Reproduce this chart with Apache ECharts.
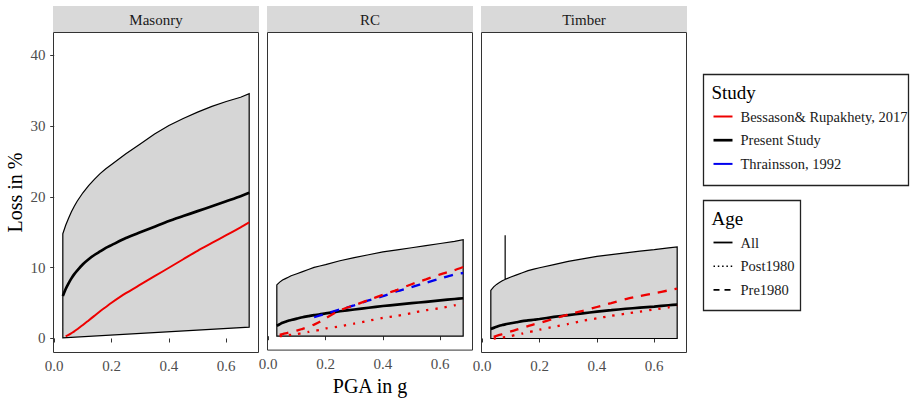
<!DOCTYPE html>
<html><head><meta charset="utf-8">
<script src="https://cdn.jsdelivr.net/npm/echarts@6/dist/echarts.min.js"></script>
<style>html,body{margin:0;padding:0;background:#fff}#chart{width:910px;height:401px}</style>
</head><body><div id="chart"></div>
<script>
// ---------- data ----------
const facets = ['Masonry', 'RC', 'Timber'];
const xTicks = [0, 0.2, 0.4, 0.6];
const yTicks = [0, 10, 20, 30, 40];
const xTitle = 'PGA in g';
const yTitle = 'Loss in %';
const studyLabels = ['Bessason& Rupakhety, 2017', 'Present Study', 'Thrainsson, 1992'];
const ageLabels = ['All', 'Post1980', 'Pre1980'];

const pga = [0.03,0.04,0.05,0.06,0.07,0.08,0.1,0.12,0.14,0.16,0.18,0.2,0.25,0.3,0.35,0.4,0.45,0.5,0.55,0.6,0.65,0.68];
const pgaEnds = [0.03, 0.68];
const pgaBessason = [0.04,0.05,0.06,0.07,0.08,0.1,0.12,0.14,0.16,0.18,0.2,0.25,0.3,0.35,0.4,0.45,0.5,0.55,0.6,0.65,0.68];
const pgaThrainsson = [0.16,0.2,0.25,0.3,0.35,0.4,0.45,0.5,0.55,0.6,0.65,0.68];
const pgaTimberBand = [0.03,0.04,0.05,0.06,0.07,0.08,0.08,0.08,0.1,0.12,0.14,0.16,0.18,0.2,0.25,0.3,0.35,0.4,0.45,0.5,0.55,0.6,0.65,0.68];

const masonryUpper = [14.8,16.0,17.0,17.9,18.7,19.4,20.6,21.6,22.5,23.3,24.0,24.6,26.1,27.5,28.9,30.1,31.1,32.0,32.8,33.5,34.1,34.6];
const masonryLower = [0.1, 1.6];
const masonryPresent = [6.0,7.0,7.8,8.5,9.1,9.6,10.5,11.2,11.8,12.3,12.8,13.2,14.2,15.0,15.8,16.6,17.3,18.0,18.7,19.4,20.1,20.6];
const masonryBessasonAll = [0.3,0.5,0.75,1.0,1.3,1.9,2.55,3.2,3.85,4.45,5.05,6.4,7.6,8.8,10.0,11.2,12.4,13.5,14.6,15.7,16.4];

const rcUpper = [7.3,7.7,8.0,8.2,8.4,8.6,8.9,9.2,9.5,9.8,10.0,10.2,10.75,11.2,11.6,12.0,12.3,12.6,12.9,13.2,13.5,13.75];
const rcLower = [0, 0];
const rcPresent = [1.5,1.7,1.9,2.05,2.2,2.3,2.5,2.7,2.85,3.0,3.1,3.25,3.55,3.8,4.05,4.3,4.5,4.7,4.9,5.1,5.3,5.4];
const rcBessasonPre = [0.2,0.3,0.4,0.5,0.6,0.8,1.05,1.3,1.65,2.05,2.55,3.7,4.4,5.15,5.9,6.6,7.4,8.1,8.8,9.4,9.85];
const rcBessasonPost = [0.0,0.05,0.1,0.15,0.2,0.3,0.45,0.6,0.75,0.9,1.1,1.4,1.8,2.2,2.6,2.9,3.3,3.7,4.0,4.4,4.6];
const rcThrainssonPre = [2.7,3.2,3.8,4.4,5.1,5.7,6.4,7.0,7.6,8.2,8.8,9.0];

const timberUpper = [6.8,7.3,7.65,7.9,8.15,8.35,14.6,8.35,8.7,9.0,9.3,9.6,9.8,10.0,10.45,10.9,11.25,11.6,11.85,12.1,12.35,12.55,12.8,12.95];
const timberLower = [0, 0];
const timberPresent = [1.35,1.5,1.65,1.8,1.9,2.0,2.15,2.3,2.45,2.55,2.65,2.75,3.05,3.3,3.55,3.8,4.0,4.2,4.35,4.5,4.7,4.8];
const timberBessasonPre = [0.25,0.38,0.5,0.62,0.75,1.0,1.25,1.5,1.75,2.0,2.2,2.8,3.4,3.9,4.45,5.0,5.55,6.0,6.4,6.8,7.05];
const timberBessasonPost = [0.0,0.05,0.1,0.15,0.2,0.35,0.55,0.7,0.9,1.05,1.25,1.65,2.05,2.5,2.85,3.2,3.5,3.8,4.1,4.4,4.65];

// ---------- styles / layout ----------
const FONT = '"Liberation Serif", "Times New Roman", serif';
const RED = '#ee0000', BLUE = '#0000ee', BLACK = '#000000';
const panelLeft = [53.5, 267.5, 481.5];
const panelW = 205, panelTop = 32.5, panelH = 320;
const X_MIN = -0.0025, X_MAX = 0.7125, Y_MIN = -1.98, Y_MAX = 43.25;
const DASH = [9, 8], DOT = [2.3, 7];

const zip = (xs, ys) => xs.map((x, i) => [x, ys[i]]);

function ribbon(idx, xsHi, hi, xsLo, lo) {
  return {
    type: 'custom', xAxisIndex: idx, yAxisIndex: idx, silent: true, z: 1,
    data: zip(xsHi, hi),
    renderItem: function (params, api) {
      if (params.dataIndex !== 0) return null;
      const pts = [];
      for (let i = 0; i < xsHi.length; i++) pts.push(api.coord([xsHi[i], hi[i]]));
      for (let i = xsLo.length - 1; i >= 0; i--) pts.push(api.coord([xsLo[i], lo[i]]));
      return { type: 'polygon', shape: { points: pts },
        style: { fill: '#d6d6d6', stroke: '#000', lineWidth: 1.2, lineJoin: 'miter' } };
    }
  };
}
function line(name, idx, xs, ys, color, width, dash, z) {
  return {
    type: 'line', name: name, xAxisIndex: idx, yAxisIndex: idx, silent: true,
    data: zip(xs, ys), symbol: 'none', showSymbol: false, z: z || 3,
    smooth: 0.2,
    lineStyle: { color: color, width: width, type: dash || 'solid', cap: 'butt' }
  };
}

const grids = [], xAxes = [], yAxes = [];
facets.forEach((f, i) => {
  grids.push({ left: panelLeft[i], top: panelTop, width: panelW, height: panelH,
    show: true, borderColor: '#333', borderWidth: 1, backgroundColor: '#fff', containLabel: false });
  xAxes.push({ type: 'value', gridIndex: i, min: X_MIN, max: X_MAX,
    axisLine: { show: false }, splitLine: { show: false },
    axisTick: { show: true, length: 4, lineStyle: { color: '#333' }, customValues: xTicks },
    axisLabel: { show: true, customValues: xTicks, margin: 6, color: '#4d4d4d', fontSize: 15, fontFamily: FONT,
      formatter: v => v.toFixed(1) },
    name: i === 1 ? xTitle : '', nameLocation: 'middle', nameGap: 15,
    nameTextStyle: { fontSize: 20, fontFamily: FONT, color: '#000' } });
  yAxes.push({ type: 'value', gridIndex: i, min: Y_MIN, max: Y_MAX,
    axisLine: { show: false }, splitLine: { show: false },
    axisTick: { show: i === 0, length: 4, lineStyle: { color: '#333' }, customValues: yTicks },
    axisLabel: { show: i === 0, customValues: yTicks, margin: 8, color: '#4d4d4d', fontSize: 15, fontFamily: FONT },
    name: i === 0 ? yTitle : '', nameLocation: 'middle', nameGap: 29,
    nameTextStyle: { fontSize: 20, fontFamily: FONT, color: '#000' } });
});

const series = [
  ribbon(0, pga, masonryUpper, pgaEnds, masonryLower),
  line(studyLabels[1], 0, pga, masonryPresent, BLACK, 2.7, null, 4),
  line(studyLabels[0], 0, pgaBessason, masonryBessasonAll, RED, 2.0, null, 5),

  ribbon(1, pga, rcUpper, pgaEnds, rcLower),
  line(studyLabels[1], 1, pga, rcPresent, BLACK, 2.7, null, 4),
  line(studyLabels[0], 1, pgaBessason, rcBessasonPost, RED, 2.3, DOT, 5),
  line(studyLabels[2], 1, pgaThrainsson, rcThrainssonPre, BLUE, 2.3, DASH, 5),
  line(studyLabels[0], 1, pgaBessason, rcBessasonPre, RED, 2.3, DASH, 6),

  ribbon(2, pgaTimberBand, timberUpper, pgaEnds, timberLower),
  line(studyLabels[1], 2, pga, timberPresent, BLACK, 2.7, null, 4),
  line(studyLabels[0], 2, pgaBessason, timberBessasonPost, RED, 2.3, DOT, 5),
  line(studyLabels[0], 2, pgaBessason, timberBessasonPre, RED, 2.3, DASH, 6)
];

// ---------- strips and legends (graphic) ----------
const graphic = [];
facets.forEach((f, i) => {
  graphic.push({ type: 'rect', shape: { x: panelLeft[i] - 0.5, y: 6, width: panelW + 1, height: panelTop - 6.5 },
    style: { fill: '#d9d9d9' }, silent: true });
  graphic.push({ type: 'text', x: panelLeft[i] + panelW / 2, y: 20,
    style: { text: f, font: '15px ' + FONT, fill: '#1a1a1a', align: 'center', verticalAlign: 'middle',
      textAlign: 'center', textVerticalAlign: 'middle' }, silent: true });
});
function legendBox(x, y, w, h, title, labels, styles) {
  graphic.push({ type: 'rect', shape: { x: x, y: y, width: w, height: h },
    style: { fill: '#fff', stroke: '#222', lineWidth: 1.3 }, silent: true });
  graphic.push({ type: 'text', x: x + 8, y: y + 18,
    style: { text: title, font: '19px ' + FONT, fill: '#000', align: 'left', verticalAlign: 'middle',
      textAlign: 'left', textVerticalAlign: 'middle' }, silent: true });
  labels.forEach((lab, k) => {
    const cy = y + 42 + k * 23.7;
    const st = styles[k];
    graphic.push({ type: 'line', shape: { x1: x + 10, y1: cy, x2: x + 29, y2: cy },
      style: { stroke: st.color, lineWidth: st.width, lineDash: st.dash || null, lineCap: 'butt' }, silent: true });
    graphic.push({ type: 'text', x: x + 37, y: cy,
      style: { text: lab, font: '14.5px ' + FONT, fill: '#1a1a1a', align: 'left', verticalAlign: 'middle',
        textAlign: 'left', textVerticalAlign: 'middle' }, silent: true });
  });
}
legendBox(703.5, 74.5, 205, 111, 'Study', studyLabels,
  [{ color: RED, width: 2 }, { color: BLACK, width: 2.7 }, { color: BLUE, width: 2 }]);
legendBox(703.5, 200.5, 97, 110, 'Age', ageLabels,
  [{ color: BLACK, width: 1.8 }, { color: BLACK, width: 1.6, dash: [1.5, 2.8] }, { color: BLACK, width: 1.8, dash: [6, 5] }]);

const chart = echarts.init(document.getElementById('chart'), null, { renderer: 'svg' });
chart.setOption({
  animation: false,
  backgroundColor: '#fff',
  grid: grids, xAxis: xAxes, yAxis: yAxes,
  series: series,
  graphic: graphic
});
</script></body></html>
